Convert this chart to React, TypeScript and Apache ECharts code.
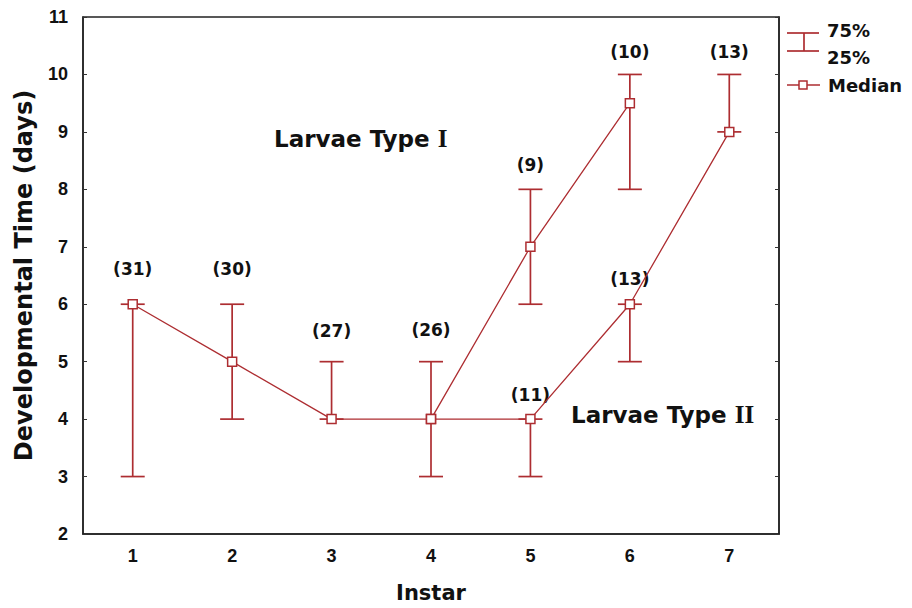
import React, { useEffect, useRef } from "react";
import * as echarts from "echarts";

const instars = ["1", "2", "3", "4", "5", "6", "7"];
const medianTypeI = [6, 5, 4, 4, 7, 9.5, null];
const medianTypeII = [null, null, null, 4, 4, 6, 9];
// [instar index, 25%, 75%, n]
const quartilesCommon = [
  [0, 3, 6, 31],
  [1, 4, 6, 30],
  [2, 4, 5, 27],
  [3, 3, 5, 26],
];
const quartilesTypeI = [
  [4, 6, 8, 9],
  [5, 8, 10, 10],
];
const quartilesTypeII = [
  [4, 3, 4, 11],
  [5, 5, 6, 13],
  [6, 9, 10, 13],
];
const yTicks = [2, 3, 4, 5, 6, 7, 8, 9, 10, 11];

const RED = "#ad2d31";
const FONT = "Liberation Sans, Arial, sans-serif";
const WIDE = "DejaVu Sans, Verdana, sans-serif";

export default function App() {
  const ref = useRef<HTMLDivElement>(null);
  useEffect(() => {
    const chart = echarts.init(ref.current!, null, { renderer: "svg" });
    const bars = [...quartilesCommon, ...quartilesTypeI, ...quartilesTypeII];
    const labelOffsets = [35, 35, 31, 32, 24, 22, 24, 25, 22];
    const renderItem = (params: any, api: any) => {
      const x = api.value(0);
      const lo = api.coord([x, api.value(1)]);
      const hi = api.coord([x, api.value(2)]);
      const n = api.value(3);
      const w = 12;
      const st = { stroke: RED, lineWidth: 1.7 };
      const off = labelOffsets[params.dataIndex] ?? 28;
      return {
        type: "group",
        children: [
          { type: "line", shape: { x1: lo[0], y1: lo[1], x2: hi[0], y2: hi[1] }, style: st },
          { type: "line", shape: { x1: lo[0] - w, y1: lo[1], x2: lo[0] + w, y2: lo[1] }, style: st },
          { type: "line", shape: { x1: hi[0] - w, y1: hi[1], x2: hi[0] + w, y2: hi[1] }, style: st },
          {
            type: "text",
            style: {
              text: "(" + n + ")",
              x: hi[0],
              y: hi[1] - off,
              align: "center",
              verticalAlign: "middle",
              fill: "#111",
              font: "bold 17px " + WIDE,
            },
          },
        ],
      };
    };
    const lineSeries = (data: any[]) => ({
      type: "line",
      data,
      symbol: "rect",
      symbolSize: 9,
      showAllSymbol: true,
      connectNulls: false,
      z: 5,
      lineStyle: { color: RED, width: 1.3 },
      itemStyle: { color: "#fff", borderColor: RED, borderWidth: 1.5 },
    });
    chart.setOption({
      animation: false,
      grid: { left: 83, width: 696, top: 17, height: 524, show: true, borderColor: "#222", borderWidth: 1.5 },
      xAxis: {
        type: "category",
        data: instars,
        boundaryGap: true,
        name: "Instar",
        nameLocation: "middle",
        nameGap: 48,
        nameTextStyle: { fontFamily: WIDE, fontWeight: "bold", fontSize: 21, color: "#111" },
        axisLine: { lineStyle: { color: "#222", width: 1.5 } },
        axisTick: { inside: true, length: 4, lineStyle: { color: "#333" } },
        axisLabel: { fontFamily: FONT, fontWeight: "bold", fontSize: 18, color: "#111", margin: 13 },
      },
      yAxis: [
        {
          type: "value",
          min: 2,
          max: 11,
          interval: 1,
          name: "Developmental Time (days)",
          nameLocation: "middle",
          nameGap: 47,
          nameTextStyle: { fontFamily: WIDE, fontWeight: "bold", fontSize: 24, color: "#111" },
          splitLine: { show: false },
          axisLine: { show: true, lineStyle: { color: "#222", width: 1.5 } },
          axisTick: { show: true, inside: true, length: 4, lineStyle: { color: "#333" } },
          axisLabel: {
            fontFamily: FONT, fontWeight: "bold", fontSize: 18, color: "#111", margin: 15,
            padding: [8, 0, 0, 0],
            formatter: (v: number) => (yTicks.includes(v) ? String(v) : ""),
          },
        },
        {
          type: "value",
          min: 2,
          max: 11,
          interval: 1,
          position: "right",
          splitLine: { show: false },
          axisLine: { show: true, lineStyle: { color: "#222", width: 1.5 } },
          axisTick: { show: true, inside: true, length: 4, lineStyle: { color: "#333" } },
          axisLabel: { show: false },
        },
      ],
      series: [
        { type: "custom", renderItem, data: bars, z: 3 },
        lineSeries(medianTypeI),
        lineSeries(medianTypeII),
      ],
      graphic: [
        {
          type: "text",
          left: 274,
          top: 126,
          style: {
            text: "Larvae Type {s|I}",
            font: "bold 23px " + WIDE,
            fill: "#111",
            rich: { s: { fontFamily: "Liberation Serif, serif", fontWeight: "bold", fontSize: 25 } },
          },
        },
        {
          type: "text",
          left: 571,
          top: 402,
          style: {
            text: "Larvae Type {s|II}",
            font: "bold 23px " + WIDE,
            fill: "#111",
            rich: { s: { fontFamily: "Liberation Serif, serif", fontWeight: "bold", fontSize: 25 } },
          },
        },
        // legend
        { type: "line", shape: { x1: 787, y1: 33, x2: 819, y2: 33 }, style: { stroke: RED, lineWidth: 1.7 } },
        { type: "line", shape: { x1: 787, y1: 51, x2: 819, y2: 51 }, style: { stroke: RED, lineWidth: 1.7 } },
        { type: "line", shape: { x1: 804, y1: 33, x2: 804, y2: 51 }, style: { stroke: RED, lineWidth: 1.7 } },
        { type: "text", left: 827, top: 21, style: { text: "75%", font: "bold 18px " + WIDE, fill: "#111" } },
        { type: "text", left: 827, top: 48, style: { text: "25%", font: "bold 18px " + WIDE, fill: "#111" } },
        { type: "line", shape: { x1: 787, y1: 85, x2: 820, y2: 85 }, style: { stroke: RED, lineWidth: 1.3 } },
        { type: "rect", shape: { x: 799, y: 81, width: 8, height: 8 }, style: { fill: "#fff", stroke: RED, lineWidth: 1.5 } },
        { type: "text", left: 828, top: 76, style: { text: "Median", font: "bold 18px " + WIDE, fill: "#111" } },
      ],
    });
    return () => chart.dispose();
  }, []);
  return <div ref={ref} style={{ position: "absolute", left: 0, top: 0, width: 912, height: 608 }} />;
}
